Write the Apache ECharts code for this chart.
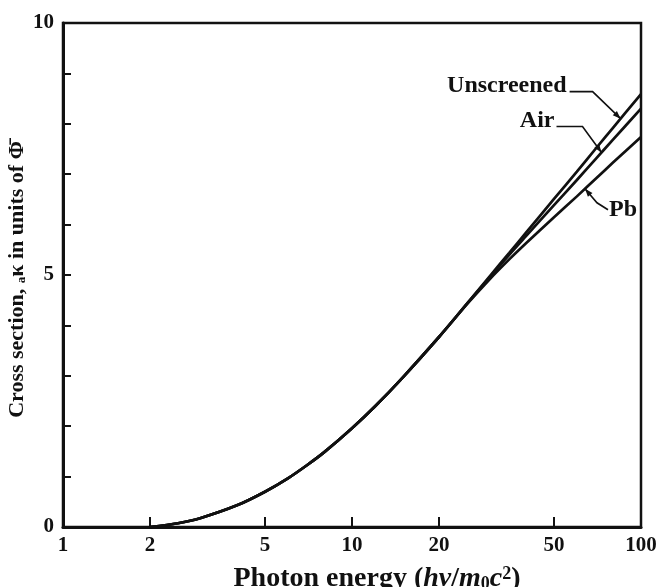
<!DOCTYPE html>
<html>
<head>
<meta charset="utf-8">
<script src="https://cdn.jsdelivr.net/npm/echarts@6/dist/echarts.min.js"></script>
<style>
  html, body { margin: 0; padding: 0; background: #ffffff; }
  #chart { width: 665px; height: 587px; }
</style>
</head>
<body>
<div id="chart"></div>
<script>
// Photon energy in units of m0c^2 (log scale)
const energy = [2, 2.5, 3, 4, 5, 6, 7, 8, 10, 12, 15, 20, 25, 30, 35, 40, 50, 60, 70, 80, 100];

// Pair-production cross section in units of Phi-bar
const unscreened = [0, 0.075, 0.18, 0.43, 0.70, 0.965, 1.23, 1.48, 1.96, 2.39, 2.97, 3.77, 4.43, 4.98, 5.44, 5.84, 6.51, 7.05, 7.52, 7.92, 8.59];
const air        = [0, 0.075, 0.18, 0.43, 0.70, 0.965, 1.23, 1.48, 1.96, 2.39, 2.97, 3.77, 4.43, 4.96, 5.40, 5.77, 6.385, 6.885, 7.315, 7.685, 8.30];
const lead       = [0, 0.075, 0.18, 0.43, 0.70, 0.965, 1.23, 1.48, 1.96, 2.39, 2.97, 3.77, 4.42, 4.92, 5.31, 5.63, 6.145, 6.56, 6.92, 7.23, 7.74];

// Axis tick labels and tick marks
const xTickLabels = [1, 2, 5, 10, 20, 50, 100];
const xTickMarks = [2, 5, 10, 20, 50];
const yTickLabels = [0, 5, 10];

const ink = '#111111';
const serif = '"Liberation Serif", "Times New Roman", serif';

const toPairs = (ys) => energy.map((e, i) => [e, ys[i]]);

const curveSeries = (name, ys) => ({
  name: name,
  type: 'line',
  data: toPairs(ys),
  showSymbol: false,
  smooth: 0.3,
  lineStyle: { color: ink, width: 2.7 },
  z: 3
});

const chart = echarts.init(document.getElementById('chart'), null, { renderer: 'canvas' });

chart.setOption({
  animation: false,
  backgroundColor: '#ffffff',
  grid: {
    left: 63, right: 24, top: 23, bottom: 60,
    containLabel: false,
    outerBoundsMode: 'none',
    show: true, borderColor: ink, borderWidth: 2.5, backgroundColor: 'transparent'
  },
  xAxis: {
    type: 'log',
    logBase: 10,
    min: 1,
    max: 100,
    axisLine: { show: true, lineStyle: { color: ink, width: 3 } },
    axisTick: { show: true, inside: true, length: 10, lineStyle: { color: ink, width: 2 }, customValues: xTickMarks },
    axisLabel: {
      customValues: xTickLabels,
      color: ink, fontFamily: serif, fontWeight: 'bold', fontSize: 21, margin: 8
    },
    splitLine: { show: false },
    minorTick: { show: false },
    name: 'Photon energy ({it|hν}/{it|m}{sub|0}{it|c}{sup|2})',
    nameLocation: 'middle',
    nameGap: 38,
    nameMoveOverlap: false,
    nameTextStyle: {
      color: ink, fontFamily: serif, fontWeight: 'bold', fontSize: 28,
      padding: [0, 0, 0, 50],
      rich: {
        it: { fontFamily: serif, fontStyle: 'italic', fontWeight: 'bold', fontSize: 28, color: ink },
        sub: { fontFamily: serif, fontWeight: 'bold', fontSize: 18, color: ink, verticalAlign: 'bottom', lineHeight: 18 },
        sup: { fontFamily: serif, fontWeight: 'bold', fontSize: 18, color: ink, verticalAlign: 'top', lineHeight: 18 }
      }
    }
  },
  yAxis: {
    type: 'value',
    min: 0,
    max: 10,
    interval: 1,
    axisLine: { show: true, lineStyle: { color: ink, width: 3 } },
    axisTick: { show: true, inside: true, length: 8, lineStyle: { color: ink, width: 2 } },
    axisLabel: {
      customValues: yTickLabels,
      color: ink, fontFamily: serif, fontWeight: 'bold', fontSize: 21, margin: 9
    },
    splitLine: { show: false },
    name: 'Cross section, {sub|a}κ in units of Φ̄',
    nameLocation: 'middle',
    nameGap: 35,
    nameMoveOverlap: false,
    nameTextStyle: {
      color: ink, fontFamily: serif, fontWeight: 'bold', fontSize: 22,
      padding: [0, 9, 0, 0],
      rich: {
        sub: { fontFamily: serif, fontWeight: 'bold', fontSize: 13, color: ink, verticalAlign: 'bottom', lineHeight: 14 }
      }
    }
  },
  series: [
    curveSeries('Unscreened', unscreened),
    curveSeries('Air', air),
    curveSeries('Pb', lead)
  ]
});

// Callout labels with leader lines ending in small arrowheads on each curve.
// Anchor energy is where the arrow meets the curve; offsets are in pixels.
const callouts = [
  { text: 'Unscreened', values: unscreened, at: 85, bend: [-28, -27], end: [-51, -27], label: [-54, -33], align: 'right' },
  { text: 'Air',        values: air,        at: 73, bend: [-19, -26], end: [-45, -26], label: [-47, -32], align: 'right' },
  { text: 'Pb',         values: lead,       at: 64, bend: [12, 14],   end: [23, 21],   label: [24, 21],   align: 'left' }
];

// Value of a curve at energy e, linear in log(e) between listed points
function valueAt(ys, e) {
  const le = Math.log10(e);
  for (let i = 1; i < energy.length; i++) {
    if (e <= energy[i]) {
      const a = Math.log10(energy[i - 1]), b = Math.log10(energy[i]);
      const t = (le - a) / (b - a);
      return ys[i - 1] + t * (ys[i] - ys[i - 1]);
    }
  }
  return ys[ys.length - 1];
}

function drawCallouts() {
  const elements = [];
  callouts.forEach((c) => {
    const tip = chart.convertToPixel({ gridIndex: 0 }, [c.at, valueAt(c.values, c.at)]);
    const bend = [tip[0] + c.bend[0], tip[1] + c.bend[1]];
    const end = [tip[0] + c.end[0], tip[1] + c.end[1]];
    elements.push({
      type: 'polyline',
      shape: { points: [end, bend, tip] },
      style: { stroke: ink, lineWidth: 1.6, fill: null },
      z: 10
    });
    // arrowhead pointing from bend to tip
    const dx = tip[0] - bend[0], dy = tip[1] - bend[1];
    const len = Math.sqrt(dx * dx + dy * dy);
    const ux = dx / len, uy = dy / len;
    const hl = 8, hw = 3;
    const base = [tip[0] - ux * hl, tip[1] - uy * hl];
    elements.push({
      type: 'polygon',
      shape: { points: [tip, [base[0] - uy * hw, base[1] + ux * hw], [base[0] + uy * hw, base[1] - ux * hw]] },
      style: { fill: ink, stroke: null },
      z: 10
    });
    elements.push({
      type: 'text',
      x: tip[0] + c.label[0],
      y: tip[1] + c.label[1],
      style: {
        text: c.text,
        fill: ink,
        font: 'bold 24px ' + serif,
        align: c.align,
        verticalAlign: 'middle'
      },
      z: 10
    });
  });
  chart.setOption({ graphic: elements });
}

drawCallouts();
</script>
</body>
</html>
